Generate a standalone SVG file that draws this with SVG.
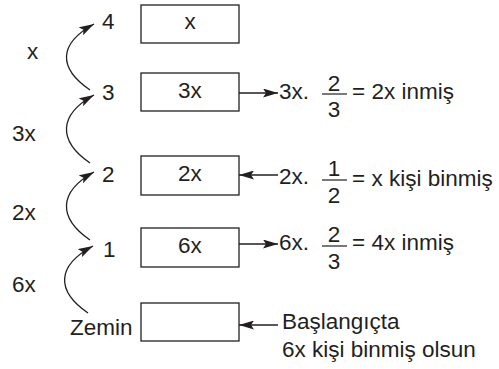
<svg xmlns="http://www.w3.org/2000/svg" width="499" height="369" viewBox="0 0 499 369">
<style>
text{font-family:"Liberation Sans",Arial,sans-serif;font-size:22.5px;fill:#231f20}
.m{text-anchor:middle}
.box{fill:#fff;stroke:#231f20;stroke-width:1.3}
.ln{fill:none;stroke:#231f20;stroke-width:1.3}
.bar{stroke:#231f20;stroke-width:1.2}
</style>
<defs>
<marker id="ah" viewBox="0 0 15 9" refX="15" refY="4.5" markerWidth="15" markerHeight="9" markerUnits="userSpaceOnUse" orient="auto">
<path d="M0,0 L15,4.5 L0,9 L3,4.5 Z" fill="#231f20"/>
</marker>
</defs>
<rect width="499" height="369" fill="#fff"/>
<g id="floor4"><rect class="box" x="141" y="5" width="98" height="38"/><text class="m" x="190" y="29">x</text><text x="102" y="29">4</text></g>
<g id="floor3"><rect class="box" x="141" y="73" width="98" height="38"/><text class="m" x="190" y="98">3x</text><text x="102" y="100">3</text></g>
<g id="floor2"><rect class="box" x="141" y="156" width="98" height="39"/><text class="m" x="190" y="181">2x</text><text x="102" y="182">2</text></g>
<g id="floor1"><rect class="box" x="141" y="228" width="98" height="39"/><text class="m" x="190" y="253">6x</text><text x="103" y="257">1</text></g>
<g id="ground"><rect class="box" x="141" y="303" width="98" height="38"/><text x="70" y="335">Zemin</text></g>
<g id="leftLabels">
<text x="27" y="59">x</text>
<text x="12" y="141">3x</text>
<text x="12" y="220">2x</text>
<text x="12" y="292">6x</text>
</g>
<g id="connectors">
<path class="ln" marker-end="url(#ah)" d="M90,90 C58,68 58,44 94,24"/>
<path class="ln" marker-end="url(#ah)" d="M90,163 C58,141 58,115 94,95"/>
<path class="ln" marker-end="url(#ah)" d="M90,240 C58,218 58,192 94,172"/>
<path class="ln" marker-end="url(#ah)" d="M88,313 C56,291 56,266 93,246"/>
<path class="ln" marker-end="url(#ah)" d="M239,93 H278"/>
<path class="ln" marker-end="url(#ah)" d="M278,175 H239"/>
<path class="ln" marker-end="url(#ah)" d="M239,244 H278"/>
<path class="ln" marker-end="url(#ah)" d="M278,325 H239"/>
</g>
<g id="note3">
<text x="279" y="99">3x.</text>
<text class="m" x="334" y="91">2</text>
<line class="bar" x1="322" y1="94" x2="347" y2="94"/>
<text class="m" x="334" y="117">3</text>
<text x="352" y="99">= 2x inmiş</text>
</g>
<g id="note2">
<text x="279" y="184">2x.</text>
<text class="m" x="334" y="176">1</text>
<line class="bar" x1="322" y1="180" x2="347" y2="180"/>
<text class="m" x="334" y="203">2</text>
<text x="352" y="186">= x kişi binmiş</text>
</g>
<g id="note1">
<text x="279" y="250">6x.</text>
<text class="m" x="334" y="242">2</text>
<line class="bar" x1="322" y1="246" x2="347" y2="246"/>
<text class="m" x="334" y="269">3</text>
<text x="352" y="250">= 4x inmiş</text>
</g>
<g id="note0">
<text x="282" y="329">Başlangıçta</text>
<text x="282" y="357">6x kişi binmiş olsun</text>
</g>
</svg>
